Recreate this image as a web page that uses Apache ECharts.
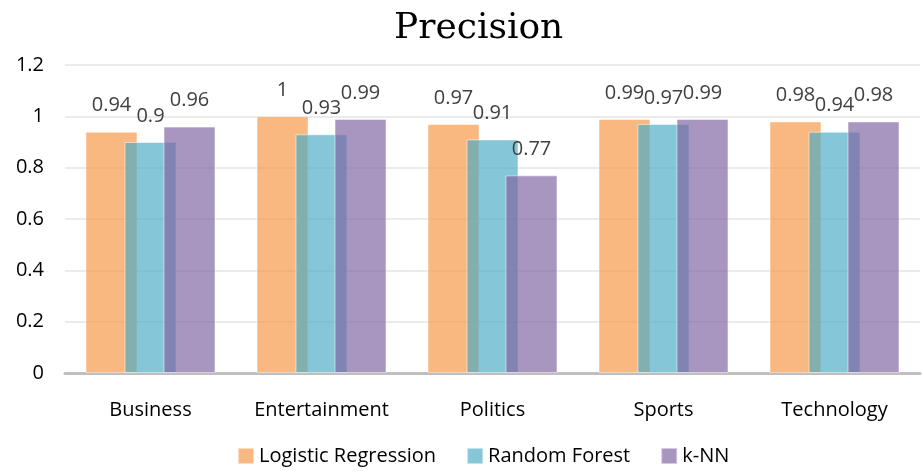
<!DOCTYPE html>
<html><head><meta charset="utf-8">
<script src="https://cdn.jsdelivr.net/npm/echarts@6/dist/echarts.min.js"></script>
<style>html,body{margin:0;padding:0;background:#fff}#c{width:922px;height:471px}</style>
</head><body><div id="c"></div>
<script>
const categories = ['Business','Entertainment','Politics','Sports','Technology'];
const seriesNames = ['Logistic Regression','Random Forest','k-NN'];
const logisticRegression = [0.94, 1, 0.97, 0.99, 0.98];
const randomForest = [0.9, 0.93, 0.91, 0.97, 0.94];
const knn = [0.96, 0.99, 0.77, 0.99, 0.98];
const yTicks = [0, 0.2, 0.4, 0.6, 0.8, 1, 1.2];
const colors = ['rgba(247,150,70,0.68)','rgba(75,172,198,0.68)','rgba(128,100,162,0.68)'];
const font = '"Open Sans", sans-serif';
const chart = echarts.init(document.getElementById('c'));
const mk = (name, data, i) => ({
  name, type: 'bar', data, barWidth: 52, barGap: '-25%',
  itemStyle: {color: colors[i], borderColor: 'rgba(255,255,255,0.5)', borderWidth: 1},
  label: {show: true, position: 'top', distance: 16, color: '#404040', fontSize: 20, fontFamily: font,
    formatter: p => String(p.value)},
  labelLayout: {hideOverlap: false},
  emphasis: {disabled: true}
});
chart.setOption({
  animation: false,
  title: {text: 'Precision', left: 389, top: 6, textStyle: {fontFamily: '"DejaVu Serif", serif', fontSize: 36, fontWeight: 'normal', color: '#000'}},
  grid: {left: 65, right: 2, top: 65, bottom: 98},
  legend: {bottom: 0, left: 232, itemWidth: 16, itemHeight: 16, itemGap: 30,
    icon: 'rect', textStyle: {fontFamily: font, fontSize: 20, color: '#000'}, data: seriesNames},
  xAxis: {type: 'category', data: categories,
    axisLine: {lineStyle: {color: '#BFBFBF', width: 3}}, axisTick: {show: false},
    axisLabel: {interval: 0, hideOverlap: false, fontFamily: font, fontSize: 20, color: '#000', margin: 27}},
  yAxis: {type: 'value', min: 0, max: 1.2, interval: 0.2,
    axisLine: {show: false}, axisTick: {show: false},
    axisLabel: {fontFamily: font, fontSize: 20, color: '#000', margin: 21, padding: [6, 0, 0, 0],
      formatter: v => { const t = yTicks.find(x => Math.abs(x - v) < 1e-9); return String(t !== undefined ? t : v); }},
    splitLine: {lineStyle: {color: '#EBEBEB', width: 2}}},
  series: [mk(seriesNames[0], logisticRegression, 0), mk(seriesNames[1], randomForest, 1), mk(seriesNames[2], knn, 2)]
});
</script></body></html>
